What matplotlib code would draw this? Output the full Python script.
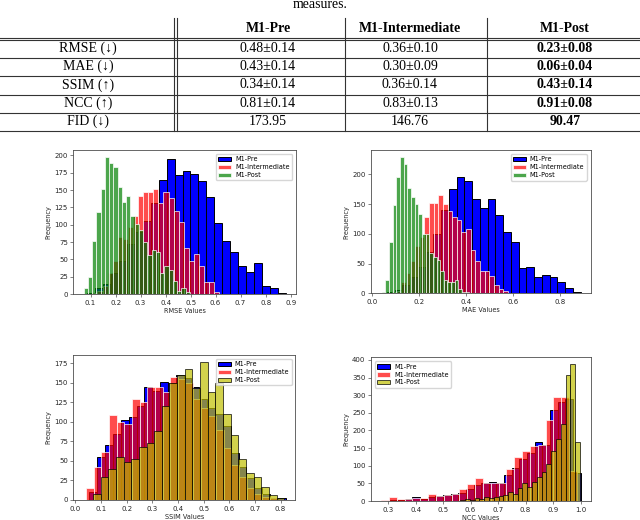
import matplotlib
matplotlib.use("Agg")
import matplotlib.pyplot as plt
import numpy as np
from matplotlib.ticker import MultipleLocator

# ---- table data ----
ROW_NAMES = ["RMSE (\u2193)", "MAE (\u2193)", "SSIM (\u2191)", "NCC (\u2191)", "FID (\u2193)"]
COL_NAMES = ["M1-Pre", "M1-Intermediate", "M1-Post"]
PRE_VALUES = ["0.48\u00b10.14", "0.43\u00b10.14", "0.34\u00b10.14", "0.81\u00b10.14", "173.95"]
INTER_VALUES = ["0.36\u00b10.10", "0.30\u00b10.09", "0.36\u00b10.14", "0.83\u00b10.13", "146.76"]
POST_VALUES = ["0.23\u00b10.08", "0.06\u00b10.04", "0.43\u00b10.14", "0.91\u00b10.08", "90.47"]

# ---- histogram data: (bin range), bin counts (25 bins each) ----
RMSE_PRE_RANGE = (0.086, 0.881)
RMSE_PRE = [2, 8, 15, 30, 48, 72, 90, 105, 132, 164, 195, 172, 178, 173, 163,
            140, 102, 76, 60, 41, 32, 45, 12, 8, 2]
RMSE_INTER_RANGE = (0.107, 0.615)
RMSE_INTER = [2, 5, 12, 30, 48, 82, 80, 97, 112, 141, 148, 148, 152, 131, 148,
              138, 120, 104, 67, 47, 58, 41, 17, 17, 3]
RMSE_POST_RANGE = (0.072, 0.497)
RMSE_POST = [8, 24, 76, 118, 151, 198, 189, 183, 154, 133, 142, 113, 101, 92, 75,
             57, 63, 61, 31, 41, 35, 19, 5, 8, 3]

MAE_PRE_RANGE = (0.063, 0.888)
MAE_PRE = [2, 6, 15, 28, 45, 70, 100, 140, 175, 195, 188, 159, 143, 158, 131,
           103, 86, 43, 45, 28, 31, 28, 20, 9, 3]
MAE_INTER_RANGE = (0.085, 0.578)
MAE_INTER = [2, 5, 20, 35, 55, 80, 95, 128, 152, 152, 166, 150, 139, 128, 124,
             103, 108, 73, 54, 38, 38, 30, 14, 8, 4]
MAE_POST_RANGE = (0.042, 0.430)
MAE_POST = [3, 22, 87, 148, 196, 229, 218, 177, 162, 150, 134, 100, 99, 68, 62,
            56, 38, 23, 19, 19, 23, 7, 3, 2, 1]

SSIM_PRE_RANGE = (0.055, 0.820)
SSIM_PRE = [10, 55, 71, 85, 102, 106, 120, 145, 140, 151, 150, 160, 157, 145, 130,
            118, 110, 95, 60, 42, 28, 15, 8, 3, 2]
SSIM_INTER_RANGE = (0.042, 0.787)
SSIM_INTER = [15, 42, 61, 109, 100, 98, 130, 125, 145, 145, 138, 158, 155, 150, 130,
              118, 108, 90, 67, 45, 30, 15, 8, 4, 2]
SSIM_POST_RANGE = (0.069, 0.814)
SSIM_POST = [8, 30, 40, 55, 49, 52, 68, 73, 88, 120, 150, 160, 168, 143, 177,
             138, 150, 110, 83, 53, 35, 30, 17, 7, 3]

NCC_PRE_RANGE = (0.305, 1.000)
NCC_PRE = [2, 3, 5, 10, 5, 12, 14, 16, 20, 22, 35, 45, 50, 55, 52,
           75, 95, 120, 135, 168, 160, 258, 280, 290, 80]
NCC_INTER_RANGE = (0.274, 0.987)
NCC_INTER = [3, 12, 5, 5, 8, 8, 20, 15, 17, 20, 33, 48, 65, 50, 50,
             50, 91, 125, 141, 155, 160, 230, 294, 294, 85]
NCC_POST_RANGE = (0.562, 0.998)
NCC_POST = [3, 5, 4, 8, 5, 10, 8, 10, 14, 17, 25, 20, 36, 52, 41,
            55, 67, 82, 106, 141, 176, 217, 356, 388, 166]

LABELS = ["M1-Pre", "M1-Intermediate", "M1-Post"]


def setup_style():
    plt.rcParams.update(
        {
            "font.size": 5,
            "axes.labelsize": 4.7,
            "xtick.labelsize": 5,
            "ytick.labelsize": 5,
            "axes.linewidth": 0.6,
            "axes.edgecolor": "0.3",
            "xtick.major.size": 2,
            "ytick.major.size": 2,
            "xtick.major.width": 0.5,
            "ytick.major.width": 0.5,
            "xtick.major.pad": 2,
            "ytick.major.pad": 2,
            "xtick.color": "0.3",
            "ytick.color": "0.3",
            "xtick.labelcolor": "0.15",
            "ytick.labelcolor": "0.15",
            "axes.labelcolor": "0.15",
        }
    )


def draw_table(fig):
    ax = fig.add_axes([0, 0, 1, 1])
    ax.set_xlim(0, 640)
    ax.set_ylim(520, 0)
    ax.axis("off")
    ax.patch.set_alpha(0)
    serif = ["Liberation Serif", "DejaVu Serif"]
    lc = "0.2"
    ax.text(320, 5, "measures.", ha="center", va="center", family=serif, fontsize=10)
    # horizontal rules
    y_rows = [48, 66.5, 85, 103.5, 121.5]
    ax.plot([0, 640], [37.5, 37.5], color=lc, lw=0.8)
    ax.plot([0, 640], [39.5, 39.5], color=lc, lw=0.8)
    for y in [57.5, 76, 94.5, 112.5, 130.5]:
        ax.plot([0, 640], [y, y], color=lc, lw=0.8)
    # vertical rules
    ax.plot([174, 174], [18, 130.5], color=lc, lw=0.8)
    ax.plot([176.5, 176.5], [18, 130.5], color=lc, lw=0.8)
    for x in [345, 487]:
        ax.plot([x, x], [18, 130.5], color=lc, lw=0.8)
    col_x = [268, 410, 565]
    for x, name in zip(col_x, COL_NAMES):
        ax.text(x, 28, name, ha="center", va="center", family=serif,
                fontsize=10, fontweight="bold")
    for y, name in zip(y_rows, ROW_NAMES):
        ax.text(88, y, name, ha="center", va="center", family=serif, fontsize=10)
    for x, vals, bold in zip(col_x, [PRE_VALUES, INTER_VALUES, POST_VALUES],
                             [False, False, True]):
        for y, v in zip(y_rows, vals):
            ax.text(x, y, v, ha="center", va="center", family=serif, fontsize=10,
                    fontweight="bold" if bold else "normal")


def draw_panel(ax, series, post_color, post_edge, xlabel, ystep, xstep, loc):
    styles = [
        dict(color="blue", edgecolor="black", alpha=1.0),
        dict(color="red", edgecolor="white", alpha=0.7),
        dict(color=post_color, edgecolor=post_edge, alpha=0.7),
    ]
    for (rng, counts), st, lab in zip(series, styles, LABELS):
        edges = np.linspace(rng[0], rng[1], len(counts) + 1)
        ax.hist(edges[:-1], bins=edges, weights=counts, label=lab, linewidth=0.7, **st)
    ax.set_xlabel(xlabel, labelpad=1.5)
    ax.set_ylabel("Frequency", labelpad=2)
    ax.yaxis.set_major_locator(MultipleLocator(ystep))
    ax.xaxis.set_major_locator(MultipleLocator(xstep))
    ax.legend(loc=loc, fontsize=4.7, borderaxespad=0.6, handlelength=2.0,
              labelspacing=0.3, borderpad=0.35, handletextpad=0.6)


def main():
    setup_style()
    fig = plt.figure(figsize=(6.4, 5.2), dpi=100)

    ax1 = fig.add_axes([0.1148, 0.4346, 0.3477, 0.2769])
    draw_panel(ax1, [(RMSE_PRE_RANGE, RMSE_PRE), (RMSE_INTER_RANGE, RMSE_INTER),
                     (RMSE_POST_RANGE, RMSE_POST)],
               "green", "white", "RMSE Values", 25, 0.1, "upper right")

    ax2 = fig.add_axes([0.5797, 0.4356, 0.343, 0.2756])
    draw_panel(ax2, [(MAE_PRE_RANGE, MAE_PRE), (MAE_INTER_RANGE, MAE_INTER),
                     (MAE_POST_RANGE, MAE_POST)],
               "green", "white", "MAE Values", 50, 0.2, "upper right")
    ax2.set_xlim(-0.004, 0.93)
    ax2.set_xticks([0.0, 0.2, 0.4, 0.6, 0.8])

    ax3 = fig.add_axes([0.1148, 0.0385, 0.3469, 0.2788])
    draw_panel(ax3, [(SSIM_PRE_RANGE, SSIM_PRE), (SSIM_INTER_RANGE, SSIM_INTER),
                     (SSIM_POST_RANGE, SSIM_POST)],
               "y", "black", "SSIM Values", 25, 0.1, "upper right")
    ax3.set_xlim(-0.007, 0.858)

    ax4 = fig.add_axes([0.5797, 0.0365, 0.343, 0.2763])
    draw_panel(ax4, [(NCC_PRE_RANGE, NCC_PRE), (NCC_INTER_RANGE, NCC_INTER),
                     (NCC_POST_RANGE, NCC_POST)],
               "y", "black", "NCC Values", 50, 0.1, "upper left")

    draw_table(fig)
    fig.savefig("out.png", dpi=100)


if __name__ == "__main__":
    main()
